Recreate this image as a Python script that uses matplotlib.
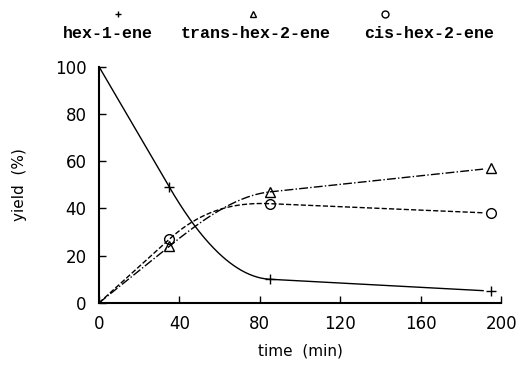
import numpy as np
import matplotlib.pyplot as plt
from matplotlib.lines import Line2D

# reaction time (min)
time = [0, 35, 85, 195]

# yields (%)
hex1 = [100, 49, 10, 5]
trans2 = [0, 24, 47, 57]
cis2 = [0, 27, 42, 38]

names = ['hex-1-ene', 'trans-hex-2-ene', 'cis-hex-2-ene']
markers = ['+', '^', 'o']
styles = ['-', '-.', '--']


def curve(x, y, xs):
    # straight first/last segments, smooth Hermite piece joining them
    x = np.asarray(x, float)
    y = np.asarray(y, float)
    h = np.diff(x)
    d = np.diff(y) / h
    m = np.array([d[0], d[0], d[-1], d[-1]])
    i = np.clip(np.searchsorted(x, xs) - 1, 0, len(x) - 2)
    t = (xs - x[i]) / h[i]
    h00 = 2 * t**3 - 3 * t**2 + 1
    h10 = t**3 - 2 * t**2 + t
    h01 = -2 * t**3 + 3 * t**2
    h11 = t**3 - t**2
    return h00 * y[i] + h10 * h[i] * m[i] + h01 * y[i + 1] + h11 * h[i] * m[i + 1]


fig = plt.figure(figsize=(5.21, 3.81), dpi=100)
ax = fig.add_axes([0.19, 0.205, 0.772, 0.62])

xs = np.linspace(0, 191, 400)
for ys, mk, ls in zip([hex1, trans2, cis2], markers, styles):
    ax.plot(xs, curve(time, ys, xs), color='black', linestyle=ls, linewidth=1.0)
    ax.plot(time[1:], ys[1:], linestyle='none', marker=mk, color='black',
            markerfacecolor='none', markersize=7, markeredgewidth=1.0)

ax.set_xlim(0, 200)
ax.set_ylim(0, 100)
ax.set_xticks([0, 40, 80, 120, 160, 200])
ax.set_yticks([0, 20, 40, 60, 80, 100])
ax.spines['top'].set_visible(False)
ax.spines['right'].set_visible(False)
ax.spines['left'].set_linewidth(1.5)
ax.spines['bottom'].set_linewidth(1.5)
ax.tick_params(direction='in', length=5, width=1, labelsize=12, pad=9)
for lab in ax.get_xticklabels() + ax.get_yticklabels():
    lab.set_fontfamily('DejaVu Sans')

ax.set_xlabel('time  (min)', fontsize=11, labelpad=7)
ax.set_ylabel('yield  (%)', fontsize=11, labelpad=20)

# key above the plot
label_x = [0.207, 0.49, 0.823]
marker_x = [0.226, 0.485, 0.739]
for name, lx, mx, mk in zip(names, label_x, marker_x, markers):
    fig.text(lx, 0.913, name, ha='center', va='center', fontsize=12,
             fontweight='bold', family='Liberation Mono')
    fig.add_artist(Line2D([mx], [0.963], marker=mk, color='black',
                          markerfacecolor='none', markersize=5,
                          transform=fig.transFigure))

fig.savefig('out.png', dpi=100)
